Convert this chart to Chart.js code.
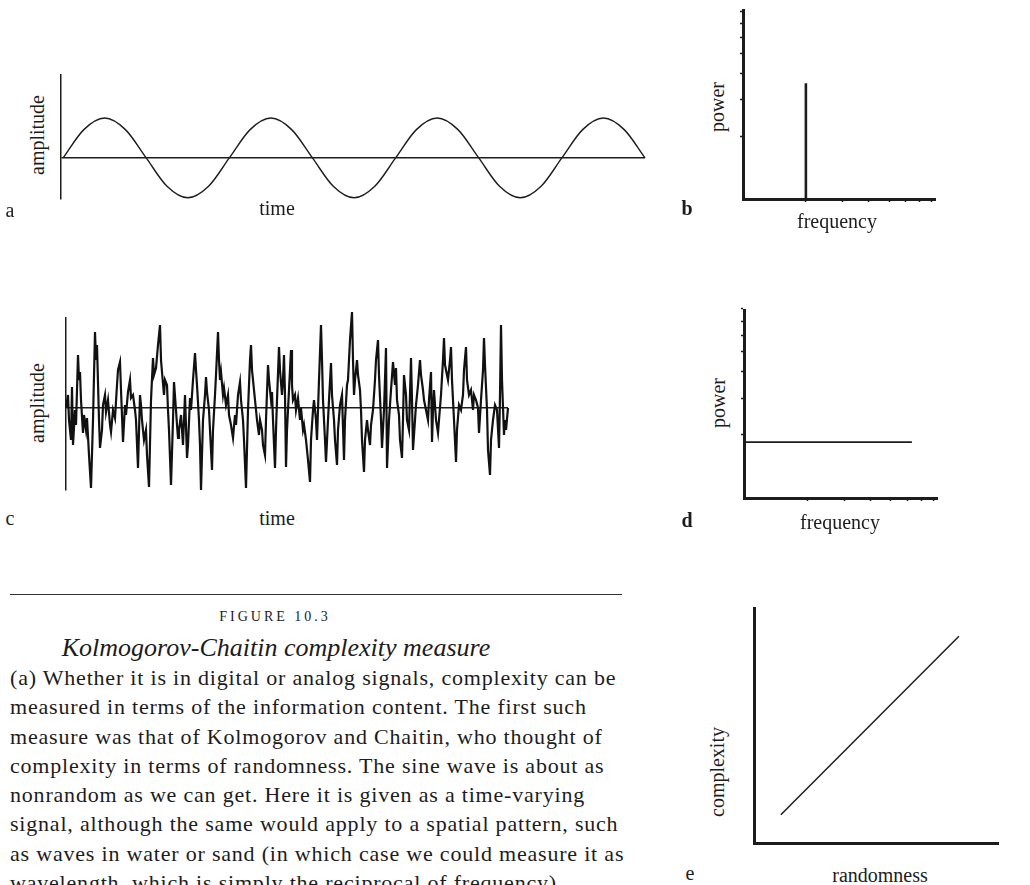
<!DOCTYPE html>
<html>
<head>
<meta charset="utf-8">
<script src="https://cdn.jsdelivr.net/npm/chart.js@4.4.0/dist/chart.umd.min.js"></script>
<style>
  body { margin: 0; background: #fff; width: 1030px; height: 885px; overflow: hidden; position: relative;
         font-family: "Liberation Serif", "DejaVu Serif", serif; color: #1c1c1c; }
  canvas { position: absolute; }
  .lbl { position: absolute; font-size: 20px; white-space: nowrap; transform: translate(-50%, -50%); }
  .rot { transform: translate(-50%, -50%) rotate(-90deg); }
  .tag { position: absolute; font-size: 20px; transform: translate(-50%, -50%); }
  .rule { position: absolute; left: 10px; top: 594px; width: 612px; height: 1px; background: #333; }
  .fig { position: absolute; left: 275px; top: 617px; transform: translate(-50%, -50%);
         font-size: 14px; letter-spacing: 3px; white-space: nowrap; }
  .ttl { position: absolute; left: 276px; top: 648px; transform: translate(-50%, -50%);
         font-size: 26px; font-style: italic; white-space: nowrap; }
  .body { position: absolute; left: 10px; top: 663px; font-size: 22px; line-height: 29.3px; letter-spacing: 0.8px; }
  .body div { white-space: nowrap; }
</style>
</head>
<body>

<canvas id="cA"></canvas>
<canvas id="cB"></canvas>
<canvas id="cC"></canvas>
<canvas id="cD"></canvas>
<canvas id="cE"></canvas>

<!-- axis labels and panel letters -->
<div class="lbl rot" style="left:37px; top:135px;">amplitude</div>
<div class="lbl" style="left:277px; top:208px;">time</div>
<div class="tag" style="left:10px; top:210px;">a</div>

<div class="lbl rot" style="left:717px; top:107px;">power</div>
<div class="lbl" style="left:837px; top:221px;">frequency</div>
<div class="tag" style="left:687px; top:208px; font-weight:bold;">b</div>

<div class="lbl rot" style="left:37px; top:403px;">amplitude</div>
<div class="lbl" style="left:277px; top:518px;">time</div>
<div class="tag" style="left:10px; top:518px;">c</div>

<div class="lbl rot" style="left:718px; top:403px;">power</div>
<div class="lbl" style="left:840px; top:522px;">frequency</div>
<div class="tag" style="left:687px; top:520px; font-weight:bold;">d</div>

<div class="lbl rot" style="left:717px; top:772px;">complexity</div>
<div class="lbl" style="left:880px; top:875px;">randomness</div>
<div class="tag" style="left:690px; top:873px;">e</div>

<!-- caption -->
<div class="rule"></div>
<div class="fig">FIGURE 10.3</div>
<div class="ttl">Kolmogorov-Chaitin complexity measure</div>
<div class="body">
  <div>(a) Whether it is in digital or analog signals, complexity can be</div>
  <div>measured in terms of the information content. The first such</div>
  <div>measure was that of Kolmogorov and Chaitin, who thought of</div>
  <div>complexity in terms of randomness. The sine wave is about as</div>
  <div>nonrandom as we can get. Here it is given as a time-varying</div>
  <div>signal, although the same would apply to a spatial pattern, such</div>
  <div>as waves in water or sand (in which case we could measure it as</div>
  <div>wavelength, which is simply the reciprocal of frequency).</div>
</div>

<script>
/* ---- data ------------------------------------------------------ */

// (a) sine wave, sampled every 1/8 period, 3.5 periods
const sineTime = [0,1,2,3,4,5,6,7,8,9,10,11,12,13,14,15,16,17,18,19,20,21,22,23,24,25,26,27,28];
const sineAmp  = [0,0.71,1,0.71,0,-0.71,-1,-0.71,
                  0,0.71,1,0.71,0,-0.71,-1,-0.71,
                  0,0.71,1,0.71,0,-0.71,-1,-0.71,
                  0,0.71,1,0.71,0];

// (c) noisy signal
const noiseTime = [
  66,68,69,71,72,73,75,76,78,79,
  80,81,83,84,86,87,89,91,93,95,
  96,97,99,100,102,103,105,106,108,110,
  111,113,115,117,118,120,121,123,125,126,
  128,130,131,133,135,136,138,140,141,142,
  144,146,147,149,151,153,154,156,158,160,
  161,162,164,165,167,168,169,171,173,174,
  176,177,178,179,181,183,184,185,187,188,
  190,191,193,195,196,197,199,200,201,203,
  205,206,207,209,210,212,213,215,216,218,
  219,220,221,223,224,226,228,229,231,233,
  235,236,238,240,241,243,244,246,248,250,
  251,252,254,256,257,259,260,262,263,265,
  266,268,269,271,272,273,275,276,277,279,
  280,282,283,284,285,286,287,289,291,292,
  293,295,296,298,300,301,303,304,306,308,
  310,311,313,314,316,317,319,321,322,323,
  325,326,328,329,331,332,334,335,337,338,
  340,342,344,345,347,348,350,352,353,354,
  355,357,358,360,361,362,364,365,367,368,
  370,371,373,375,376,378,379,381,382,384,
  386,387,389,391,393,395,396,397,399,400,
  402,403,404,406,407,409,411,412,413,415,
  416,418,420,421,423,424,426,428,429,431,
  432,433,434,436,438,439,441,443,444,445,
  446,448,450,451,452,454,456,457,459,461,
  463,464,466,467,469,471,473,474,476,478,
  479,481,483,484,485,487,488,490,491,493,
  495,497,499,500,501,502,504,505,506,508
];
const noiseAmp = [
  0,13,-12,-32,21,-37,-2,-17,53,28,
  36,8,-25,-7,-22,-10,-47,-80,-12,76,
  48,63,-12,-40,-22,3,13,-4,8,-17,
  -24,-2,-10,23,38,46,18,-34,3,-7,
  16,28,10,13,-2,-12,-60,13,3,-12,
  -32,-22,-47,-79,8,50,33,40,63,83,
  48,36,13,28,23,-2,-22,-77,-12,26,
  -2,-17,-30,-22,-7,-37,-12,13,-50,-37,
  10,-2,28,55,38,23,-12,-37,-82,-12,
  13,31,16,-2,-22,-62,-22,13,33,76,
  48,28,36,13,20,3,13,-7,-17,-30,
  -7,-17,13,26,8,-12,-32,-80,-2,48,
  63,38,18,-2,-12,-27,-12,-22,-37,-47,
  -12,43,28,8,16,-12,-60,-22,8,61,
  38,13,28,53,13,-59,-22,18,58,23,
  8,13,-2,10,-12,0,-22,-17,-32,-52,
  -74,-32,-2,8,-12,-32,28,83,48,8,
  -32,-54,-12,8,45,13,-12,-32,-57,-22,
  3,13,-52,-12,23,28,68,96,48,13,
  28,48,33,18,-2,-32,-64,-32,-12,-22,
  -37,-17,-2,28,48,68,33,-12,-40,-2,
  60,-60,-12,18,46,23,40,8,-7,-32,
  -50,-12,33,13,-12,-22,50,8,-42,-12,
  3,23,48,33,18,8,-2,-12,8,36,
  -34,-2,18,-12,-25,-12,13,48,70,43,
  38,28,48,61,28,-12,-54,-22,3,-2,
  13,38,61,28,13,18,-2,13,8,0,
  -25,8,38,70,43,-2,-42,-67,-32,-12,
  3,-2,-40,13,83,28,-27,-12,-22,0
];

// (b) spectrum of the sine: one spike
const spikeFreq  = [2];
const spikePower = [3.6];

// (d) spectrum of the noise: flat
const flatFreq  = [1, 6.3];
const flatPower = [1.85, 1.85];

// (e) complexity vs randomness
const randomness = [1.1, 8.4];
const complexity = [1.2, 8.8];

// log tick marks on the spectrum axes
const logTicks = [2, 3, 4, 5, 6, 7, 8];

/* ---- style ----------------------------------------------------- */
const INK = '#1c1c1c';
const PAD = 10;

/* place a canvas so that its chart area lands on the given box */
function place(id, box, tickY, tickX) {
  const cv = document.getElementById(id);
  cv.width  = (box.r - box.l) + 2 * PAD + tickY;
  cv.height = (box.b - box.t) + 2 * PAD + tickX;
  cv.style.left = (box.l - PAD - tickY) + 'px';
  cv.style.top  = (box.t - PAD) + 'px';
  return cv;
}

const base = {
  responsive: false,
  animation: false,
  layout: { padding: PAD },
  plugins: { legend: { display: false }, tooltip: { enabled: false } }
};

const pts = (xs, ys) => xs.map((x, i) => ({ x, y: ys[i] }));

/* zero line drawn as the single y grid line at 0 */
function zeroAxis(min, max) {
  return {
    min, max,
    ticks: { display: false },
    afterBuildTicks: s => { s.ticks = [{ value: 0 }]; },
    grid: { drawTicks: false, color: INK, lineWidth: 1.6 },
    border: { color: INK, width: 1.5 }
  };
}

function logAxis(max, w) {
  return {
    type: 'logarithmic', min: 1, max,
    ticks: { display: false },
    afterBuildTicks: s => { s.ticks = logTicks.map(v => ({ value: v })); },
    grid: { drawOnChartArea: false, drawTicks: true, tickLength: 3, tickWidth: 1.5, tickColor: INK },
    border: { color: INK, width: w }
  };
}

/* (a) sine wave */
new Chart(place('cA', { l: 61, t: 75, r: 645, b: 199 }, 0, 0), {
  type: 'line',
  data: { datasets: [{
    data: pts(sineTime, sineAmp), borderColor: INK, borderWidth: 1.4,
    pointRadius: 0, cubicInterpolationMode: 'monotone', clip: false
  }] },
  options: { ...base, scales: {
    x: { type: 'linear', min: -0.1, max: 28, display: false },
    y: zeroAxis(-1.03, 2.08)
  } }
});

/* (b) spike spectrum */
new Chart(place('cB', { l: 743, t: 10, r: 935, b: 199 }, 3, 3), {
  type: 'line',
  data: { datasets: spikeFreq.map((f, i) => ({
    data: [{ x: f, y: 1 }, { x: f, y: spikePower[i] }],
    borderColor: INK, borderWidth: 2.6, pointRadius: 0, borderCapStyle: 'butt'
  })) },
  options: { ...base, scales: { x: logAxis(8.3, 3), y: logAxis(8.1, 3) } }
});

/* (c) random signal */
new Chart(place('cC', { l: 66, t: 318, r: 508, b: 490 }, 0, 0), {
  type: 'line',
  data: { datasets: [{
    data: pts(noiseTime, noiseAmp), borderColor: '#111', borderWidth: 2.2,
    pointRadius: 0, tension: 0, clip: false
  }] },
  options: { ...base, scales: {
    x: { type: 'linear', min: 66, max: 508, display: false },
    y: zeroAxis(-82, 90)
  } }
});

/* (d) flat spectrum */
new Chart(place('cD', { l: 744, t: 310, r: 937, b: 498 }, 3, 3), {
  type: 'line',
  data: { datasets: [{
    data: pts(flatFreq, flatPower), borderColor: INK, borderWidth: 1.8, pointRadius: 0
  }] },
  options: { ...base, scales: { x: logAxis(8.3, 3), y: logAxis(7.9, 3) } }
});

/* (e) complexity grows with randomness */
new Chart(place('cE', { l: 746, t: 608, r: 998, b: 851 }, 0, 0), {
  type: 'line',
  data: { datasets: [{
    data: pts(randomness, complexity), borderColor: INK, borderWidth: 1.5, pointRadius: 0
  }] },
  options: { ...base, scales: {
    x: { type: 'linear', min: 0, max: 10, ticks: { display: false },
         grid: { display: false }, border: { color: INK, width: 3 } },
    y: { type: 'linear', min: 0, max: 10, ticks: { display: false },
         grid: { display: false }, border: { color: INK, width: 3 } }
  } }
});
</script>
</body>
</html>
